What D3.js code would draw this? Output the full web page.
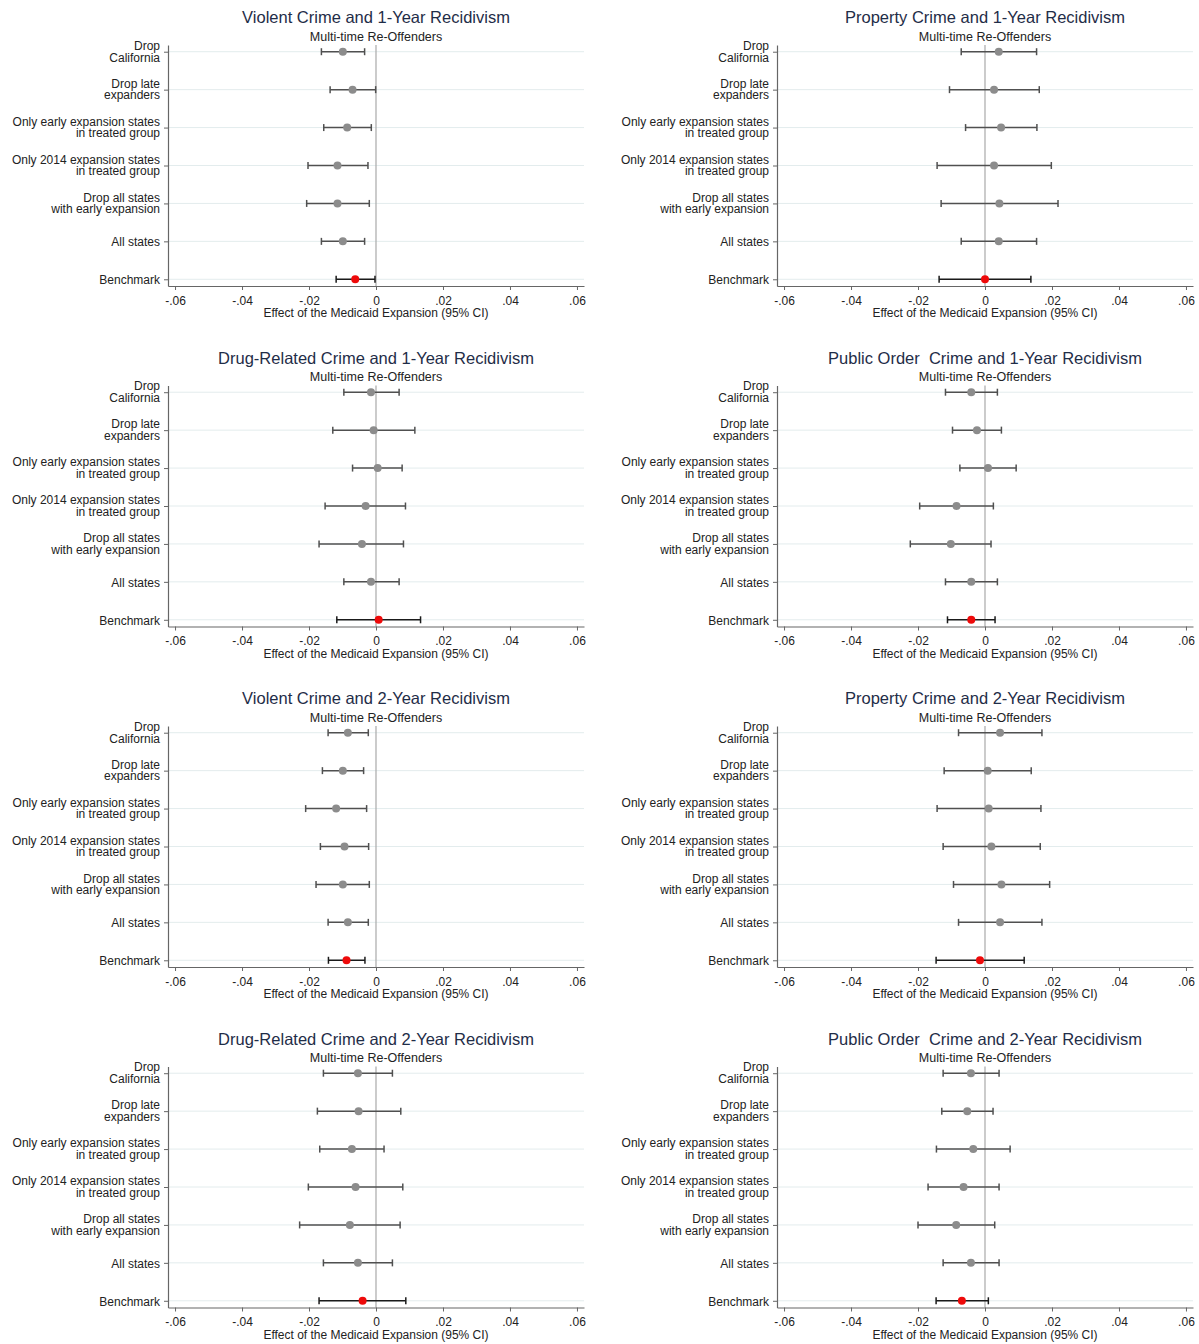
<!DOCTYPE html>
<html>
<head>
<meta charset="utf-8">
<script src="https://cdn.jsdelivr.net/npm/d3@7"></script>
<style>
  html, body { margin: 0; padding: 0; background: #fff; }
  svg { display: block; font-family: "Liberation Sans", Arial, sans-serif; }
  text { white-space: pre; }
</style>
</head>
<body>
<svg id="chart" width="1199" height="1344"></svg>
<script>
// Specification labels, top to bottom
const categories = [
  ["Drop", "California"],
  ["Drop late", "expanders"],
  ["Only early expansion states", "in treated group"],
  ["Only 2014 expansion states", "in treated group"],
  ["Drop all states", "with early expansion"],
  ["All states"],
  ["Benchmark"]
];

const panelTitles = [
  "Violent Crime and 1-Year Recidivism",
  "Property Crime and 1-Year Recidivism",
  "Drug-Related Crime and 1-Year Recidivism",
  "Public Order  Crime and 1-Year Recidivism",
  "Violent Crime and 2-Year Recidivism",
  "Property Crime and 2-Year Recidivism",
  "Drug-Related Crime and 2-Year Recidivism",
  "Public Order  Crime and 2-Year Recidivism"
];
const subtitle = "Multi-time Re-Offenders";
const xAxisTitle = "Effect of the Medicaid Expansion (95% CI)";

const xTickValues = [-0.06, -0.04, -0.02, 0, 0.02, 0.04, 0.06];
const xTickLabels = ["-.06", "-.04", "-.02", "0", ".02", ".04", ".06"];

// Point estimates and 95% confidence bounds (one array per panel)
const violent1Est = [-0.0099, -0.0070, -0.0086, -0.0115, -0.0115, -0.0099, -0.0062];
const violent1Lo  = [-0.0163, -0.0137, -0.0156, -0.0203, -0.0207, -0.0163, -0.0119];
const violent1Hi  = [-0.0034, -0.0001, -0.0014, -0.0024, -0.0020, -0.0034, -0.0003];

const property1Est = [0.0041, 0.0027, 0.0048, 0.0027, 0.0043, 0.0041, 0.0000];
const property1Lo  = [-0.0071, -0.0106, -0.0058, -0.0143, -0.0131, -0.0071, -0.0137];
const property1Hi  = [0.0154, 0.0162, 0.0155, 0.0198, 0.0218, 0.0154, 0.0137];

const drug1Est = [-0.0015, -0.0007, 0.0005, -0.0031, -0.0042, -0.0015, 0.0008];
const drug1Lo  = [-0.0096, -0.0129, -0.0070, -0.0152, -0.0170, -0.0096, -0.0117];
const drug1Hi  = [0.0069, 0.0116, 0.0078, 0.0088, 0.0082, 0.0069, 0.0133];

const public1Est = [-0.0041, -0.0024, 0.0009, -0.0085, -0.0102, -0.0041, -0.0041];
const public1Lo  = [-0.0118, -0.0097, -0.0075, -0.0195, -0.0223, -0.0118, -0.0112];
const public1Hi  = [0.0037, 0.0049, 0.0093, 0.0025, 0.0018, 0.0037, 0.0030];

const violent2Est = [-0.0084, -0.0099, -0.0119, -0.0094, -0.0099, -0.0084, -0.0088];
const violent2Lo  = [-0.0143, -0.0160, -0.0210, -0.0166, -0.0179, -0.0143, -0.0142];
const violent2Hi  = [-0.0023, -0.0037, -0.0028, -0.0022, -0.0020, -0.0023, -0.0033];

const property2Est = [0.0045, 0.0008, 0.0011, 0.0019, 0.0049, 0.0045, -0.0015];
const property2Lo  = [-0.0079, -0.0122, -0.0143, -0.0125, -0.0094, -0.0079, -0.0146];
const property2Hi  = [0.0170, 0.0138, 0.0167, 0.0165, 0.0193, 0.0170, 0.0117];

const drug2Est = [-0.0054, -0.0052, -0.0072, -0.0061, -0.0078, -0.0054, -0.0040];
const drug2Lo  = [-0.0157, -0.0175, -0.0168, -0.0202, -0.0228, -0.0157, -0.0170];
const drug2Hi  = [0.0049, 0.0074, 0.0024, 0.0080, 0.0072, 0.0049, 0.0089];

const public2Est = [-0.0042, -0.0053, -0.0035, -0.0064, -0.0086, -0.0042, -0.0069];
const public2Lo  = [-0.0125, -0.0129, -0.0145, -0.0170, -0.0200, -0.0125, -0.0146];
const public2Hi  = [0.0042, 0.0024, 0.0075, 0.0042, 0.0029, 0.0042, 0.0010];

const panelSeries = [
  [violent1Est, violent1Lo, violent1Hi],
  [property1Est, property1Lo, property1Hi],
  [drug1Est, drug1Lo, drug1Hi],
  [public1Est, public1Lo, public1Hi],
  [violent2Est, violent2Lo, violent2Hi],
  [property2Est, property2Lo, property2Hi],
  [drug2Est, drug2Lo, drug2Hi],
  [public2Est, public2Lo, public2Hi]
];

// Layout
const colOffset = 609;
const rowOffset = 340.5;
const plotLeft = 168, plotRight = 584, plotTop = 45, plotBottom = 286;

const x = d3.scaleLinear().domain([-0.0621, 0.0621]).range([plotLeft, plotRight]);
const y = d3.scaleLinear().domain([0.823, 7.177]).range([plotTop, plotBottom]);

const svg = d3.select("#chart");

panelTitles.forEach((title, i) => {
  const col = i % 2, row = Math.floor(i / 2);
  const g = svg.append("g")
    .attr("transform", `translate(${col * colOffset},${row * rowOffset})`);
  const [est, lo, hi] = panelSeries[i];
  const cx = (plotLeft + plotRight) / 2;

  g.append("text")
    .attr("x", cx).attr("y", 23)
    .attr("text-anchor", "middle")
    .attr("font-size", 16.5)
    .attr("fill", "#1f2d48")
    .text(title);

  g.append("text")
    .attr("x", cx).attr("y", 40.5)
    .attr("text-anchor", "middle")
    .attr("font-size", 12.5)
    .attr("fill", "#222")
    .text(subtitle);

  // horizontal grid at each specification
  g.append("g").selectAll("line")
    .data(categories)
    .join("line")
    .attr("x1", plotLeft).attr("x2", plotRight)
    .attr("y1", (d, k) => y(k + 1)).attr("y2", (d, k) => y(k + 1))
    .attr("stroke", "#e3eced")
    .attr("stroke-width", 1);

  // reference line at zero
  g.append("line")
    .attr("x1", x(0)).attr("x2", x(0))
    .attr("y1", plotTop).attr("y2", plotBottom)
    .attr("stroke", "#a9a9a9")
    .attr("stroke-width", 1.2);

  // x axis
  const xAxis = d3.axisBottom(x)
    .tickValues(xTickValues)
    .tickFormat((d, k) => xTickLabels[k])
    .tickSize(4)
    .tickSizeOuter(0);
  const xg = g.append("g")
    .attr("transform", `translate(0,${plotBottom})`)
    .call(xAxis);
  xg.select(".domain").attr("stroke", "#666").attr("stroke-width", 1.2);
  xg.selectAll(".tick line").attr("stroke", "#666");
  xg.selectAll(".tick text")
    .attr("font-size", 12).attr("fill", "#222")
    .attr("font-family", "Liberation Sans, Arial, sans-serif")
    .attr("y", 10).attr("dy", "0.71em");

  g.append("text")
    .attr("x", cx).attr("y", 317)
    .attr("text-anchor", "middle")
    .attr("font-size", 12)
    .attr("fill", "#222")
    .text(xAxisTitle);

  // y axis with two-line category labels
  const yAxis = d3.axisLeft(y)
    .tickValues(d3.range(1, categories.length + 1))
    .tickFormat("")
    .tickSize(4)
    .tickSizeOuter(0);
  const yg = g.append("g")
    .attr("transform", `translate(${plotLeft},0)`)
    .call(yAxis);
  yg.select(".domain").attr("stroke", "#666").attr("stroke-width", 1.2);
  yg.selectAll(".tick line").attr("stroke", "#666");
  yg.selectAll(".tick").each(function (v) {
    const lines = categories[v - 1];
    const t = d3.select(this).append("text")
      .attr("x", -8)
      .attr("text-anchor", "end")
      .attr("font-size", 12)
      .attr("fill", "#222")
      .attr("font-family", "Liberation Sans, Arial, sans-serif");
    if (lines.length === 1) {
      t.append("tspan").attr("x", -8).attr("y", 4.3).text(lines[0]);
    } else {
      t.append("tspan").attr("x", -8).attr("y", -2.3).text(lines[0]);
      t.append("tspan").attr("x", -8).attr("y", 9.3).text(lines[1]);
    }
  });

  // confidence intervals
  const ci = g.append("g").selectAll("g")
    .data(est.map((e, k) => ({ e, lo: lo[k], hi: hi[k], k })))
    .join("g")
    .attr("stroke", d => d.k === categories.length - 1 ? "#1a1a1a" : "#505050")
    .attr("stroke-width", 1.5);
  ci.append("line")
    .attr("x1", d => x(d.lo)).attr("x2", d => x(d.hi))
    .attr("y1", d => y(d.k + 1)).attr("y2", d => y(d.k + 1));
  ci.append("line")
    .attr("x1", d => x(d.lo)).attr("x2", d => x(d.lo))
    .attr("y1", d => y(d.k + 1) - 3.5).attr("y2", d => y(d.k + 1) + 3.5);
  ci.append("line")
    .attr("x1", d => x(d.hi)).attr("x2", d => x(d.hi))
    .attr("y1", d => y(d.k + 1) - 3.5).attr("y2", d => y(d.k + 1) + 3.5);

  // point estimates
  g.append("g").selectAll("circle")
    .data(est)
    .join("circle")
    .attr("cx", d => x(d))
    .attr("cy", (d, k) => y(k + 1))
    .attr("r", 4)
    .attr("fill", (d, k) => k === categories.length - 1 ? "#ee0a0a" : "#8c8c8c");
});
</script>
</body>
</html>
